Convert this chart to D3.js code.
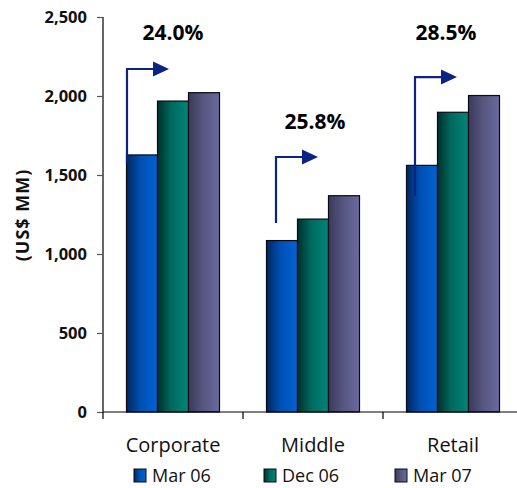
<!DOCTYPE html>
<html>
<head>
<meta charset="utf-8">
<script src="https://cdn.jsdelivr.net/npm/d3@7"></script>
<style>
  html, body { margin: 0; padding: 0; background: #fff; }
  svg { display: block; }
</style>
</head>
<body>
<svg id="chart" width="517" height="488"></svg>
<script>
// Loan portfolio by segment (US$ MM)
const categories = ["Corporate", "Middle", "Retail"];
const series = ["Mar 06", "Dec 06", "Mar 07"];
const mar06 = [1627, 1085, 1561];
const dec06 = [1968, 1221, 1897];
const mar07 = [2021, 1369, 2003];
const yTicks = [0, 500, 1000, 1500, 2000, 2500];

// Growth call-outs (Mar 06 -> Mar 07), arrow levels in US$ MM
const growthLabels = ["24.0%", "25.8%", "28.5%"];
const arrowFrom = [1576, 1196, 1367];
const arrowTo = [2171, 1614, 2120];
const labelLevel = [2354, 1791, 2354];

const values = [mar06, dec06, mar07];
const fills = [
  ["#00285e", "#0050b4", "#0063d2"],
  ["#00302c", "#006a60", "#008578"],
  ["#3a3a5c", "#55557e", "#6a6aa0"]
];

const svg = d3.select("#chart");

const x0 = d3.scaleBand().domain(categories).range([103, 523]).paddingInner(0).paddingOuter(0);
const x1 = d3.scaleBand().domain(series).range([0, x0.bandwidth()]).paddingInner(0).paddingOuter(0.758);
const y = d3.scaleLinear().domain([0, 2500]).range([412, 17]);

const defs = svg.append("defs");
series.forEach((s, i) => {
  const g = defs.append("linearGradient")
    .attr("id", "grad" + i)
    .attr("x1", "0%").attr("x2", "100%").attr("y1", "0%").attr("y2", "0%");
  g.append("stop").attr("offset", "0%").attr("stop-color", fills[i][0]);
  g.append("stop").attr("offset", "45%").attr("stop-color", fills[i][1]);
  g.append("stop").attr("offset", "100%").attr("stop-color", fills[i][2]);
});

const font = "'Open Sans', 'DejaVu Sans', sans-serif";

// Bars
const groups = svg.append("g").selectAll("g")
  .data(categories)
  .join("g")
  .attr("transform", d => `translate(${x0(d)},0)`);

groups.selectAll("rect")
  .data((c, ci) => series.map((s, si) => ({ s, si, v: values[si][ci] })))
  .join("rect")
  .attr("x", d => x1(d.s))
  .attr("y", d => y(d.v))
  .attr("width", x1.bandwidth())
  .attr("height", d => y(0) - y(d.v))
  .attr("fill", d => `url(#grad${d.si})`)
  .attr("stroke", "#0a0a14")
  .attr("stroke-width", 1.2);

// Y axis
const yAxis = d3.axisLeft(y).tickValues(yTicks).tickSize(6).tickPadding(10)
  .tickFormat(d3.format(","));
const ya = svg.append("g").attr("transform", "translate(103,0)").call(yAxis);
ya.select(".domain").attr("stroke", "#000").attr("stroke-width", 1.2).attr("d", "M0,17V412");
ya.selectAll(".tick line").attr("stroke", "#555").attr("stroke-width", 1.2);
ya.selectAll(".tick text")
  .attr("font-family", font).attr("font-weight", "bold")
  .attr("font-size", "16.5px").attr("fill", "#111");

// X axis
const xAxis = d3.axisBottom(x0).tickSize(0).tickPadding(0).tickFormat("");
const xa = svg.append("g").attr("transform", "translate(0,412)").call(xAxis);
xa.select(".domain").attr("stroke", "#000").attr("stroke-width", 1.2).attr("d", "M103,0H517");
xa.selectAll(".tick").remove();
categories.forEach(c => {
  xa.append("line")
    .attr("x1", x0(c)).attr("x2", x0(c))
    .attr("y1", 0).attr("y2", 7)
    .attr("stroke", "#000").attr("stroke-width", 1.2);
});
svg.append("g").selectAll("text")
  .data(categories)
  .join("text")
  .attr("x", d => x0(d) + x0.bandwidth() / 2)
  .attr("y", 452)
  .attr("text-anchor", "middle")
  .attr("font-family", font)
  .attr("font-size", "20px")
  .attr("fill", "#111")
  .text(d => d);

// Y axis title
svg.append("text")
  .attr("transform", "translate(29,215) rotate(-90)")
  .attr("text-anchor", "middle")
  .attr("font-family", font)
  .attr("font-weight", "bold")
  .attr("font-size", "18px")
  .attr("letter-spacing", "1px")
  .attr("fill", "#111")
  .text("(US$ MM)");

// Growth arrows
const arrowColor = "#0c2384";
const arrowOffset = [24, 33, 32];
const labelShift = [0, 2, -7];
const ann = svg.append("g");
categories.forEach((c, i) => {
  const xv = x0(c) + arrowOffset[i];
  const yTop = y(arrowTo[i]);
  ann.append("path")
    .attr("d", `M${xv},${y(arrowFrom[i])}V${yTop}H${xv + 27}`)
    .attr("fill", "none")
    .attr("stroke", arrowColor)
    .attr("stroke-width", 2.2);
  ann.append("path")
    .attr("d", `M${xv + 26},${yTop - 7.5}L${xv + 42},${yTop}L${xv + 26},${yTop + 7.5}Z`)
    .attr("fill", arrowColor);
  ann.append("text")
    .attr("x", x0(c) + x0.bandwidth() / 2 + labelShift[i])
    .attr("y", y(labelLevel[i]))
    .attr("text-anchor", "middle")
    .attr("font-family", font)
    .attr("font-weight", "bold")
    .attr("font-size", "21px")
    .attr("fill", "#000")
    .text(growthLabels[i]);
});

// Legend
const legendX = [134, 264, 395];
const legend = svg.append("g").selectAll("g")
  .data(series)
  .join("g")
  .attr("transform", (d, i) => `translate(${legendX[i]},469)`);
legend.append("rect")
  .attr("width", 12).attr("height", 13)
  .attr("fill", (d, i) => `url(#grad${i})`)
  .attr("stroke", "#0a0a14").attr("stroke-width", 1);
legend.append("text")
  .attr("x", 18).attr("y", 12.5)
  .attr("font-family", font)
  .attr("font-size", "18px")
  .attr("fill", "#111")
  .text(d => d);
</script>
</body>
</html>
